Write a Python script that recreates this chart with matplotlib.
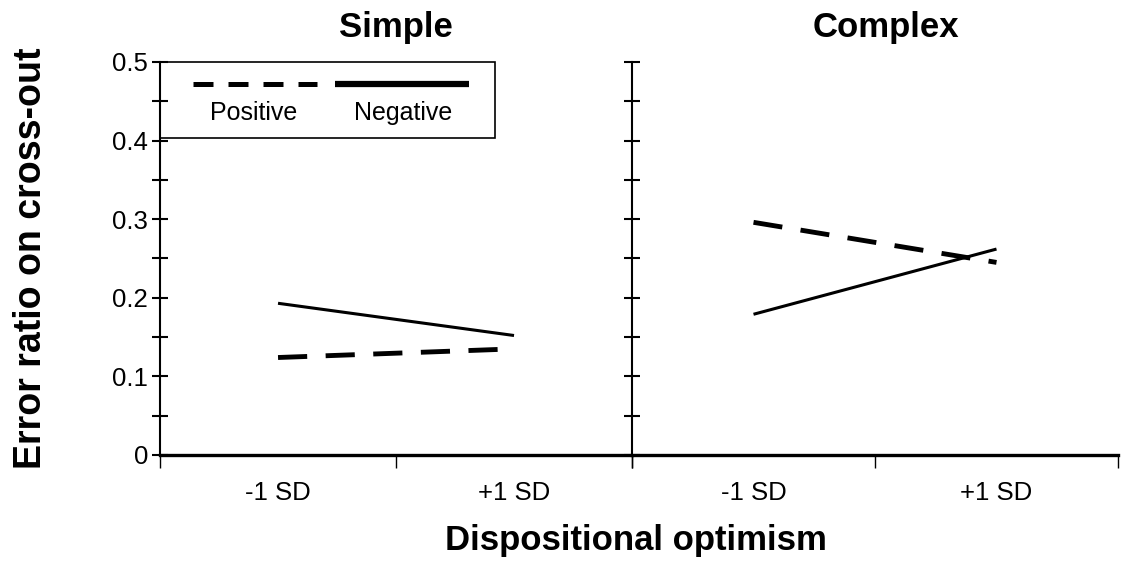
import matplotlib
matplotlib.use('Agg')
import matplotlib.pyplot as plt
from matplotlib.lines import Line2D
from matplotlib.patches import Rectangle
from matplotlib.ticker import MultipleLocator

plt.rcParams['font.family'] = ['Liberation Sans', 'DejaVu Sans']

panels = ['Simple', 'Complex']
levels = ['-1 SD', '+1 SD']
positive = {'Simple': [0.124, 0.135], 'Complex': [0.296, 0.245]}
negative = {'Simple': [0.193, 0.152], 'Complex': [0.179, 0.262]}

fig, axes = plt.subplots(1, 2, figsize=(11.31, 5.61), dpi=100, sharey=True,
                         gridspec_kw={'width_ratios': [472, 486]})
fig.subplots_adjust(left=0.1415, right=0.9885, bottom=0.189, top=0.8895, wspace=0)

xs = [0.5, 1.5]
title_x = {'Simple': 0.5, 'Complex': 0.523}
for ax, name in zip(axes, panels):
    ax.plot(xs, negative[name], color='black', lw=2.2, solid_capstyle='butt')
    ax.plot(xs, positive[name], color='black', lw=3.5, ls=(0, (6.0, 3.8)))
    ax.set_xlim(0, 2)
    ax.set_ylim(0, 0.5)
    ax.set_title(name, fontsize=25, fontweight='bold', pad=18, x=title_x[name])
    for s in ['top', 'right']:
        ax.spines[s].set_visible(False)
    ax.spines['left'].set_linewidth(1.5)
    ax.spines['bottom'].set_linewidth(2.4)
    ax.set_xticks([0, 1, 2])
    ax.set_xticklabels([])
    ax.set_xticks(xs, minor=True)
    ax.set_xticklabels(levels, minor=True, fontsize=18.5)
    ax.tick_params(axis='x', which='major', direction='out', length=9.5, width=1)
    ax.tick_params(axis='x', which='minor', length=0, pad=19)
    ax.yaxis.set_major_locator(MultipleLocator(0.1))
    ax.yaxis.set_minor_locator(MultipleLocator(0.05))
    ax.tick_params(axis='y', which='both', direction='inout', length=11, width=1.5, pad=3)
    ax.spines['left'].set_bounds(0, 0.5)

axes[0].set_yticks([0, 0.1, 0.2, 0.3, 0.4, 0.5])
axes[0].set_yticklabels(['0', '0.1', '0.2', '0.3', '0.4', '0.5'], fontsize=18.5)
axes[1].tick_params(axis='y', labelleft=False)
fig.text(0.027, 0.54, 'Error ratio on cross-out', fontsize=27, fontweight='bold',
         rotation=90, ha='center', va='center')
fig.text(0.562, 0.037, 'Dispositional optimism', fontsize=25, fontweight='bold',
         ha='center', va='center')

# legend box drawn in the top-left corner of the first panel
ax = axes[0]
ax.add_patch(Rectangle((0.0, 0.807), 0.71, 0.193, transform=ax.transAxes,
                       fill=False, lw=1.2, edgecolor='black', clip_on=False))
ax.add_line(Line2D([0.07, 0.333], [0.944, 0.944], transform=ax.transAxes,
                   color='black', lw=3.6, ls=(0, (4.0, 3.0))))
ax.add_line(Line2D([0.371, 0.655], [0.944, 0.944], transform=ax.transAxes,
                   color='black', lw=4.5, solid_capstyle='butt'))
ax.text(0.199, 0.87, 'Positive', transform=ax.transAxes, fontsize=18, ha='center', va='center')
ax.text(0.515, 0.87, 'Negative', transform=ax.transAxes, fontsize=18, ha='center', va='center')

fig.savefig('out.png', dpi=100)
